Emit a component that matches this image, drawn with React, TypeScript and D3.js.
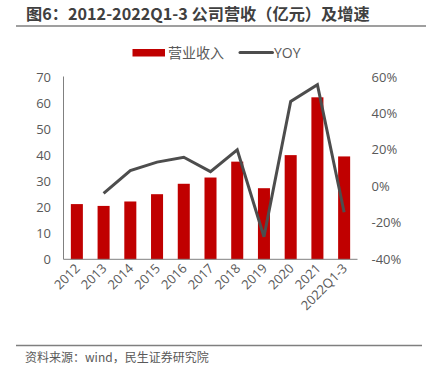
import React from "react";
import * as d3 from "d3";

const categories = ["2012","2013","2014","2015","2016","2017","2018","2019","2020","2021","2022Q1-3"];
const revenue = [21.2, 20.5, 22.2, 25.0, 29.0, 31.4, 37.5, 27.3, 40.0, 62.2, 39.5];
const yoy: (number | null)[] = [null, -3.8, 8.7, 13.3, 16.0, 8.1, 20.0, -27.6, 46.6, 55.8, -14.2];
const leftTicks = [0, 10, 20, 30, 40, 50, 60, 70];
const rightTicks = [-40, -20, 0, 20, 40, 60];

const W = 426, H = 368;
const plotLeft = 63.5, plotRight = 357.5, plotTop = 77, plotBottom = 259.3;
const FONT = "'Open Sans', 'Noto Sans CJK SC', sans-serif";
const TICK_COLOR = "#595959";

export default function App() {
  const x = d3.scaleBand<string>().domain(categories).range([plotLeft, plotRight]).paddingInner(0.55).paddingOuter(0.275);
  const yL = d3.scaleLinear().domain([0, 70]).range([plotBottom, plotTop]);
  const yR = d3.scaleLinear().domain([-40, 60]).range([plotBottom, plotTop]);
  const cx = (c: string) => (x(c) as number) + x.bandwidth() / 2;
  const pts = categories.map((c, i) => ({ c, v: yoy[i] })).filter(d => d.v !== null) as { c: string; v: number }[];
  const line = d3.line<{ c: string; v: number }>().x(d => cx(d.c)).y(d => yR(d.v));

  return (
    <svg width={W} height={H} style={{ position: "absolute", left: 0, top: 0, background: "#fff" }} fontFamily={FONT}>
      <text x={26} y={20} fontSize={16.2} fontWeight="bold" fill="#404040" fontFamily="'Noto Sans CJK SC', 'Open Sans', sans-serif">图6：2012-2022Q1-3 公司营收（亿元）及增速</text>
      <line x1={16} x2={426} y1={26} y2={26} stroke="#7f7f7f" strokeWidth={1.5} />

      {/* legend */}
      <rect x={132.5} y={49} width={32.5} height={7.5} fill="#C00000" />
      <text x={168} y={58} fontSize={14} fill={TICK_COLOR} fontFamily="'Noto Sans CJK SC', sans-serif">营业收入</text>
      <line x1={240} x2={272.5} y1={52.5} y2={52.5} stroke="#4d4d4d" strokeWidth={3} strokeLinecap="round" />
      <text x={274} y={58} fontSize={14} fill={TICK_COLOR}>YOY</text>

      {/* bars */}
      {categories.map((c, i) => (
        <rect key={c} x={x(c)} y={yL(revenue[i])} width={x.bandwidth()} height={plotBottom - yL(revenue[i])} fill="#C00000" />
      ))}

      {/* axes lines */}
      <line x1={plotLeft} x2={plotLeft} y1={plotTop - 0.5} y2={plotBottom} stroke="#808080" strokeWidth={1} />
      <line x1={plotLeft} x2={plotRight} y1={plotBottom} y2={plotBottom} stroke="#808080" strokeWidth={1} />

      {/* line */}
      <path d={line(pts) || ""} fill="none" stroke="#4d4d4d" strokeWidth={3} strokeLinejoin="miter" />

      {/* left ticks */}
      {leftTicks.map(t => (
        <text key={t} x={51} y={yL(t) + 4.5} fontSize={13} textAnchor="end" fill={TICK_COLOR}>{t}</text>
      ))}
      {/* right ticks */}
      {rightTicks.map(t => (
        <text key={t} x={371.5} y={yR(t) + 4.5} fontSize={13} textAnchor="start" fill={TICK_COLOR}>{t}%</text>
      ))}
      {/* x labels */}
      {categories.map(c => (
        <text key={c} transform={`translate(${cx(c) + 4},${plotBottom + 10}) rotate(-45)`} fontSize={13} textAnchor="end" fill={TICK_COLOR}>{c}</text>
      ))}

      <line x1={16} x2={422} y1={345.5} y2={345.5} stroke="#7f7f7f" strokeWidth={1.5} />
      <text x={25} y={362} fontSize={12} fill="#595959" fontFamily="'Noto Sans CJK SC', 'Open Sans', sans-serif">资料来源：wind，民生证券研究院</text>
    </svg>
  );
}
